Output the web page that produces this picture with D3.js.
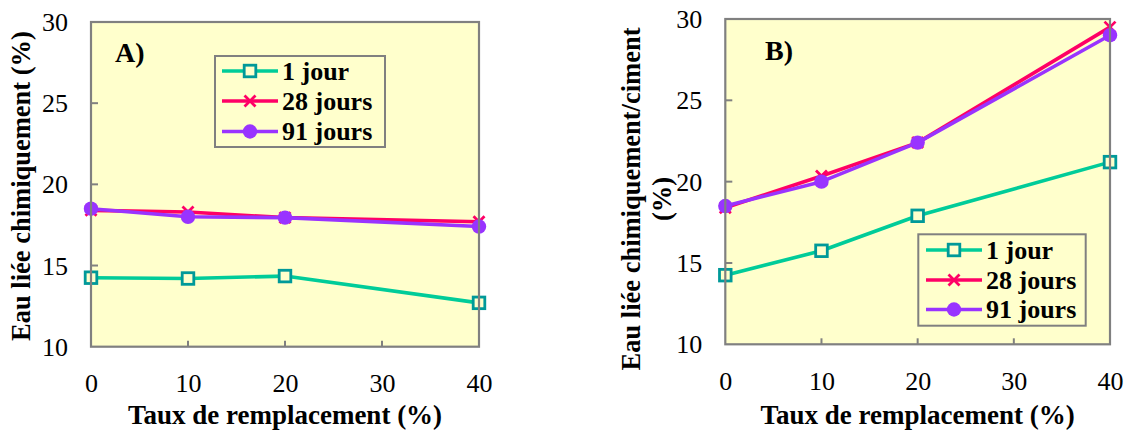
<!DOCTYPE html>
<html>
<head>
<meta charset="utf-8">
<script src="https://cdn.jsdelivr.net/npm/d3@7"></script>
<style>
  html, body { margin: 0; padding: 0; background: #ffffff; }
  svg { display: block; }
</style>
</head>
<body>
<svg id="chart" width="1126" height="432"></svg>
<script>
// Replacement rate (%) on the x axis
const replacement = [0, 10, 20, 40];
const xTicks = [0, 10, 20, 30, 40];
const yTicks = [10, 15, 20, 25, 30];

const seriesNames = ["1 jour", "28 jours", "91 jours"];

// Panel A: chemically bound water (%)
const panelA_1jour = [14.25, 14.2, 14.35, 12.7];
const panelA_28jours = [18.4, 18.3, 17.95, 17.7];
const panelA_91jours = [18.5, 18.0, 17.95, 17.4];

// Panel B: chemically bound water / cement (%)
const panelB_1jour = [14.25, 15.75, 17.9, 21.2];
const panelB_28jours = [18.4, 20.35, 22.4, 29.5];
const panelB_91jours = [18.5, 20.0, 22.4, 29.0];

const FONT = '"Liberation Serif"';
const lineColors = { "1 jour": "#00CC99", "28 jours": "#FF0066", "91 jours": "#9933FF" };
const markerColors = { "1 jour": "#009999", "28 jours": "#FF0066", "91 jours": "#9933FF" };

const svg = d3.select("#chart");

function styleText(sel, size, bold) {
  return sel.style("font-family", FONT)
    .style("font-size", size + "px")
    .style("font-weight", bold ? "bold" : "normal")
    .style("fill", "#000");
}

function drawMarker(g, name, cx, cy) {
  const c = markerColors[name];
  if (name === "1 jour") {
    g.append("rect").attr("x", cx - 5.8).attr("y", cy - 5.8)
      .attr("width", 11.6).attr("height", 11.6)
      .attr("fill", "#FFFFCC").attr("stroke", c).attr("stroke-width", 2.8);
  } else if (name === "28 jours") {
    const s = 5.5;
    g.append("path")
      .attr("d", `M${cx - s},${cy - s}L${cx + s},${cy + s}M${cx - s},${cy + s}L${cx + s},${cy - s}`)
      .attr("stroke", c).attr("stroke-width", 2.8).attr("fill", "none");
  } else {
    g.append("circle").attr("cx", cx).attr("cy", cy).attr("r", 7.2).attr("fill", c);
  }
}

function drawPanel(cfg) {
  const { left, right, top, bottom, data, label, yTitle, legend } = cfg;
  const g = svg.append("g");

  const x = d3.scaleLinear().domain([0, 40]).range([left, right]);
  const y = d3.scaleLinear().domain([10, 30]).range([bottom, top]);

  // plot background
  g.append("rect").attr("x", left).attr("y", top)
    .attr("width", right - left).attr("height", bottom - top)
    .attr("fill", "#FFFFCC");

  // inner ticks
  const ticksG = g.append("g");
  xTicks.slice(1, -1).forEach(t => {
    ticksG.append("line").attr("x1", x(t)).attr("x2", x(t))
      .attr("y1", bottom).attr("y2", bottom - 6)
      .attr("stroke", "#808080").attr("stroke-width", 2);
  });
  yTicks.slice(1, -1).forEach(t => {
    ticksG.append("line").attr("x1", left).attr("x2", left + 7)
      .attr("y1", y(t)).attr("y2", y(t))
      .attr("stroke", "#808080").attr("stroke-width", 2);
  });

  // axis tick labels
  const xAxis = d3.axisBottom(x).tickValues(xTicks).tickSize(0).tickPadding(0);
  const xa = g.append("g").attr("transform", `translate(0,${bottom})`).call(xAxis);
  xa.select(".domain").remove();
  styleText(xa.selectAll("text"), 26, false)
    .attr("dy", null).attr("y", 37).attr("dominant-baseline", "central");

  const yAxis = d3.axisLeft(y).tickValues(yTicks).tickSize(0).tickPadding(0);
  const ya = g.append("g").attr("transform", `translate(${left},0)`).call(yAxis);
  ya.select(".domain").remove();
  styleText(ya.selectAll("text"), 26, false)
    .attr("dy", null).attr("x", -23).attr("dominant-baseline", "central");

  // series lines then markers
  const line = d3.line().x((d, i) => x(replacement[i])).y(d => y(d));
  seriesNames.forEach(name => {
    g.append("path").datum(data[name]).attr("d", line)
      .attr("fill", "none").attr("stroke", lineColors[name]).attr("stroke-width", 3.6)
      .attr("stroke-linejoin", "round");
    const mg = g.append("g");
    data[name].forEach((v, i) => drawMarker(mg, name, x(replacement[i]), y(v)));
  });

  // plot frame
  g.append("rect").attr("x", left).attr("y", top)
    .attr("width", right - left).attr("height", bottom - top)
    .attr("fill", "none").attr("stroke", "#808080").attr("stroke-width", 2.2);

  // panel label
  styleText(g.append("text").attr("x", label.x).attr("y", label.y), 28, true)
    .text(label.text);

  // x axis title
  styleText(g.append("text").attr("x", (left + right) / 2).attr("y", 424)
    .attr("text-anchor", "middle"), 27, true)
    .text("Taux de remplacement (%)");

  // y axis title (one or more lines)
  const yt = styleText(g.append("text")
    .attr("transform", `translate(${yTitle.x},${yTitle.y}) rotate(-90)`)
    .attr("text-anchor", "middle"), 26.5, true);
  yTitle.lines.forEach((t, i) => {
    yt.append("tspan").attr("x", 0).attr("y", i * yTitle.lh).text(t);
  });

  // legend
  const lg = g.append("g");
  lg.append("rect").attr("x", legend.x0).attr("y", legend.y0)
    .attr("width", legend.x1 - legend.x0).attr("height", legend.y1 - legend.y0)
    .attr("fill", "none").attr("stroke", "#808080").attr("stroke-width", 2);
  seriesNames.forEach((name, i) => {
    const cy = legend.rows[i];
    lg.append("line").attr("x1", legend.lx0).attr("x2", legend.lx1)
      .attr("y1", cy).attr("y2", cy)
      .attr("stroke", lineColors[name]).attr("stroke-width", 3.6);
    drawMarker(lg, name, (legend.lx0 + legend.lx1) / 2, cy);
    styleText(lg.append("text").attr("x", legend.tx).attr("y", cy)
      .attr("dominant-baseline", "central"), 26, true)
      .text(name);
  });
}

drawPanel({
  left: 91, right: 479, top: 22, bottom: 346.7,
  data: { "1 jour": panelA_1jour, "28 jours": panelA_28jours, "91 jours": panelA_91jours },
  label: { text: "A)", x: 115, y: 62 },
  yTitle: { x: 30, y: 186, lines: ["Eau liée chimiquement (%)"], lh: 0 },
  legend: { x0: 215, x1: 385, y0: 56, y1: 147, lx0: 222, lx1: 278, tx: 282, rows: [71, 101, 131.5] }
});

drawPanel({
  left: 725.3, right: 1110, top: 19, bottom: 344.3,
  data: { "1 jour": panelB_1jour, "28 jours": panelB_28jours, "91 jours": panelB_91jours },
  label: { text: "B)", x: 765, y: 60 },
  yTitle: { x: 640, y: 199, lines: ["Eau liée chimiquement/ciment", "(%)"], lh: 31 },
  legend: { x0: 918.3, x1: 1085.7, y0: 234.3, y1: 325.7, lx0: 926, lx1: 982, tx: 986, rows: [250, 280, 309.5] }
});
</script>
</body>
</html>
